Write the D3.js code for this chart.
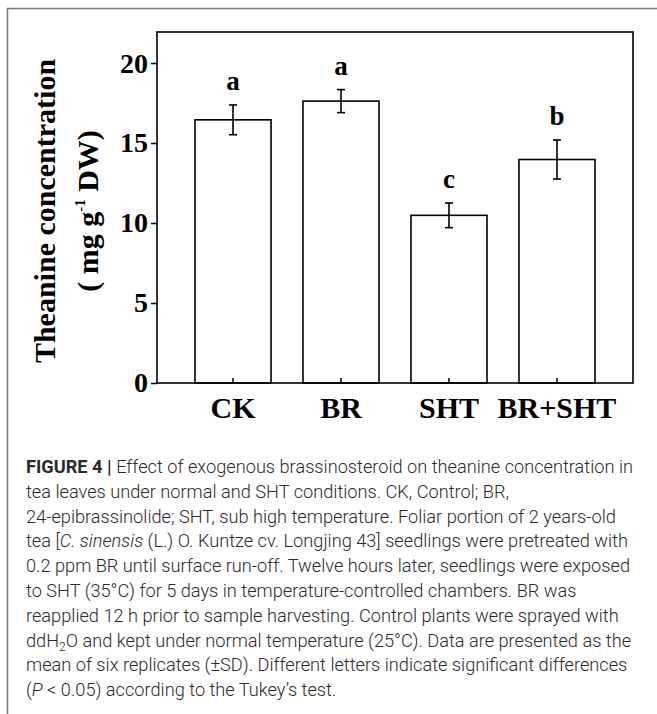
<!DOCTYPE html>
<html>
<head>
<meta charset="utf-8">
<script src="https://cdn.jsdelivr.net/npm/d3@7"></script>
<style>
  body { margin: 0; background: #fff; }
</style>
</head>
<body>
<div id="chart"></div>
<script>
// chart data
const categories = ["CK", "BR", "SHT", "BR+SHT"];
const means = [16.45, 17.62, 10.48, 13.97];
const sds = [0.93, 0.72, 0.77, 1.22];
const letters = ["a", "a", "c", "b"];
const yTicks = [0, 5, 10, 15, 20];

// caption, one entry per printed line; each part is [text, style]
const captionLines = [
  [["FIGURE 4 | ", "b"], ["Effect of exogenous brassinosteroid on theanine concentration in", ""]],
  [["tea leaves under normal and SHT conditions. CK, Control; BR,", ""]],
  [["24-epibrassinolide; SHT, sub high temperature. Foliar portion of 2 years-old", ""]],
  [["tea [", ""], ["C. sinensis", "i"], [" (L.) O. Kuntze cv. Longjing 43] seedlings were pretreated with", ""]],
  [["0.2 ppm BR until surface run-off. Twelve hours later, seedlings were exposed", ""]],
  [["to SHT (35°C) for 5 days in temperature-controlled chambers. BR was", ""]],
  [["reapplied 12 h prior to sample harvesting. Control plants were sprayed with", ""]],
  [["ddH", ""], ["2", "sub"], ["O and kept under normal temperature (25°C). Data are presented as the", ""]],
  [["mean of six replicates (±SD). Different letters indicate significant differences", ""]],
  [["(", ""], ["P", "i"], [" < 0.05) according to the Tukey’s test.", ""]]
];

const W = 657, H = 714;
const margin = { top: 32, right: 24, bottom: 331, left: 157 };
const width = W - margin.left - margin.right,
  height = H - margin.top - margin.bottom;
const serif = "'Liberation Serif', 'Times New Roman', serif";

const svg = d3.select("#chart").append("svg")
  .attr("width", W)
  .attr("height", H);

// grey frame round the figure (continues off the right and bottom edges)
svg.append("path")
  .attr("d", `M7.5,${H} V8.5 H${W}`)
  .attr("fill", "none")
  .attr("stroke", "#7a7a7a")
  .attr("stroke-width", 1.5);

const g = svg.append("g")
  .attr("transform", `translate(${margin.left},${margin.top})`);

const x = d3.scaleBand()
  .domain(categories)
  .range([0, width])
  .paddingInner(0.296)
  .paddingOuter(0.352);

const y = d3.scaleLinear()
  .domain([0, 21.94])
  .range([height, 0]);

// bars
g.selectAll(".bar")
  .data(categories)
  .enter().append("rect")
  .attr("class", "bar")
  .attr("x", d => x(d))
  .attr("y", (d, i) => y(means[i]))
  .attr("width", x.bandwidth())
  .attr("height", (d, i) => height - y(means[i]))
  .attr("fill", "#fff")
  .attr("stroke", "#000")
  .attr("stroke-width", 1.6);

// error bars
const cap = 4;
const err = g.selectAll(".err")
  .data(categories)
  .enter().append("g")
  .attr("class", "err")
  .attr("transform", d => `translate(${x(d) + x.bandwidth() / 2},0)`)
  .attr("stroke", "#000")
  .attr("stroke-width", 1.6);
err.append("line")
  .attr("y1", (d, i) => y(means[i] - sds[i]))
  .attr("y2", (d, i) => y(means[i] + sds[i]));
err.append("line")
  .attr("x1", -cap).attr("x2", cap)
  .attr("y1", (d, i) => y(means[i] + sds[i]))
  .attr("y2", (d, i) => y(means[i] + sds[i]));
err.append("line")
  .attr("x1", -cap).attr("x2", cap)
  .attr("y1", (d, i) => y(means[i] - sds[i]))
  .attr("y2", (d, i) => y(means[i] - sds[i]));

// significance letters
g.selectAll(".sig")
  .data(categories)
  .enter().append("text")
  .attr("class", "sig")
  .attr("x", d => x(d) + x.bandwidth() / 2)
  .attr("y", (d, i) => y(means[i] + sds[i]) - 15)
  .attr("text-anchor", "middle")
  .style("font-family", serif)
  .style("font-weight", "bold")
  .style("font-size", "27px")
  .text((d, i) => letters[i]);

// frame of the plot
g.append("rect")
  .attr("width", width)
  .attr("height", height)
  .attr("fill", "none")
  .attr("stroke", "#000")
  .attr("stroke-width", 1.6);

// y axis
const yAxis = g.append("g")
  .call(d3.axisLeft(y).tickValues(yTicks).tickSize(6).tickPadding(3));
yAxis.select(".domain").remove();
yAxis.selectAll("line").attr("stroke-width", 1.5);
yAxis.selectAll("text")
  .style("font-family", serif)
  .style("font-weight", "bold")
  .style("font-size", "28px");

// x axis, ticks point up into the plot
const xAxis = g.append("g")
  .attr("transform", `translate(0,${height})`)
  .call(d3.axisBottom(x).tickSize(-5).tickPadding(14));
xAxis.select(".domain").remove();
xAxis.selectAll("line").attr("stroke-width", 1.5);
xAxis.selectAll("text")
  .attr("dy", "0.71em")
  .style("font-family", serif)
  .style("font-weight", "bold")
  .style("font-size", "30px");

// y axis title, two lines
const title = svg.append("text")
  .attr("transform", "translate(55,211) rotate(-90)")
  .attr("text-anchor", "middle")
  .style("font-family", serif)
  .style("font-weight", "bold")
  .style("font-size", "30px");
title.append("tspan")
  .attr("x", 0).attr("y", 0)
  .text("Theanine concentration");
const t2 = title.append("tspan")
  .attr("x", 0).attr("y", 43)
  .text("( mg g");
t2.append("tspan").attr("dy", -13).style("font-size", "15px").text("-1");
t2.append("tspan").attr("dy", 13).text(" DW)");

// caption
const cap0 = 473, lineGap = 24.8;
const caption = svg.append("g")
  .style("font-family", "Roboto, 'Liberation Sans', sans-serif")
  .style("font-weight", 300)
  .style("font-size", "18.2px")
  .attr("fill", "#2a2a2a");
captionLines.forEach(function (parts, li) {
  const t = caption.append("text")
    .attr("x", 26)
    .attr("y", cap0 + li * lineGap);
  parts.forEach(function (p) {
    const s = t.append("tspan").text(p[0]);
    if (p[1] === "b") s.style("font-weight", "bold");
    if (p[1] === "i") s.style("font-style", "italic");
    if (p[1] === "sub") {
      s.attr("dy", 4).style("font-size", "12px");
    }
  });
  // undo the subscript shift for the rest of the line
  t.selectAll("tspan").each(function (d, k, nodes) {
    if (k > 0 && parts[k - 1][1] === "sub") d3.select(this).attr("dy", -4);
  });
});
</script>
</body>
</html>
